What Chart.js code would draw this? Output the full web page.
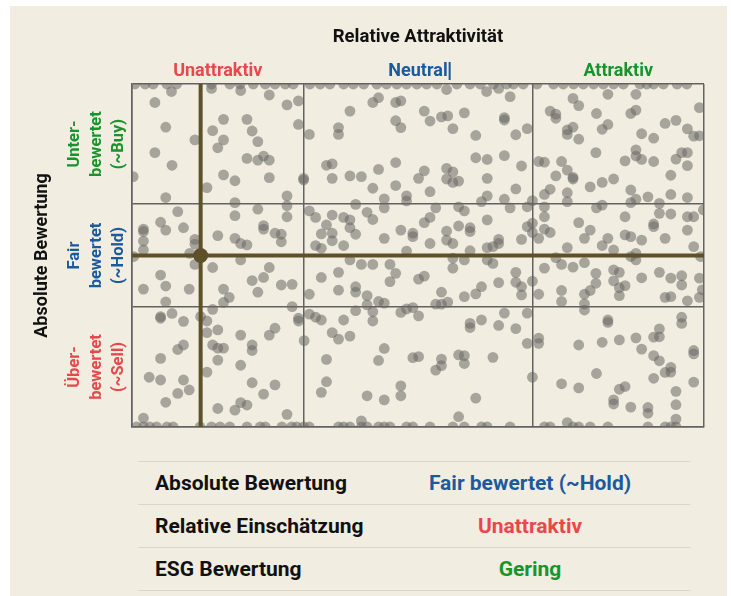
<!DOCTYPE html>
<html>
<head>
<meta charset="utf-8">
<script src="https://cdn.jsdelivr.net/npm/chart.js@4.4.1/dist/chart.umd.min.js"></script>
<style>
  html, body { margin: 0; padding: 0; background: #fff; }
  body { width: 731px; height: 596px; position: relative; overflow: hidden; font-family: Roboto, "Noto Sans", sans-serif; }
  #card { position: absolute; left: 10px; top: 6px; width: 717px; height: 600px; background: #f1ede1; }
  #chart { position: absolute; left: 0; top: 0; }
  #info { position: absolute; left: 138px; top: 461px; width: 552px; border-collapse: collapse; }
  #info td { height: 42px; line-height: 24px; border-top: 1px solid #d9d6cc; border-bottom: 1px solid #d9d6cc; font-size: 21px; font-weight: 700; padding: 0; }
  #info td.k { width: 215px; padding-left: 17px; color: #111; }
  #info td.v { text-align: center; }
</style>
</head>
<body>
<div id="card"></div>
<canvas id="chart" width="731" height="450"></canvas>
<table id="info"></table>
<script>
// axis split points (0..100 scale) and labels
let colBounds = [0, 30, 70, 100];
let rowBounds = [0, 35, 65, 100];
let colLabels = ['Unattraktiv', 'Neutral', 'Attraktiv'];
let colColors = ['#e8484b', '#1b5a9c', '#17952d'];
let rowLabels = [['Unter-', 'bewertet', '(~Buy)'], ['Fair', 'bewertet', '(~Hold)'], ['Über-', 'bewertet', '(~Sell)']];
let rowColors = ['#17952d', '#1b5a9c', '#e8484b'];

// the company we look at
let focusX = 12, focusY = 50;

// peers sitting on the top / bottom border (values out of range)
let topEdgeX = [0.5,2.3,3.7,6.1,7.8,13.9,17.1,18.9,21.2,23.3,25.0,26.8,28.2,31.1,32.9,34.6,37.0,38.7,40.5,42.8,44.5,46.3,48.0,49.8,51.5,53.3,56.8,59.1,60.9,63.2,65.5,66.7,68.4,70.8,73.7,75.4,77.2,78.9,80.7,82.4,84.2,85.9,88.8,90.0,91.2,92.9,95.3,97.0];
let bottomEdgeX = [0.8,2.0,3.1,4.3,6.1,7.2,11.9,13.9,15.4,17.1,20.1,22.4,23.3,26.2,27.9,28.8,30.0,31.0,36.1,37.0,38.1,40.1,41.1,43.1,44.1,45.1,48.0,49.1,52.1,56.1,58.1,61.1,62.1,66.1,72.1,73.1,77.1,78.1,80.1,83.2,90.2,93.2,94.2,95.1];

// peers [relative, absolute]
let leftTop = [[6.9,97.8],[13.9,98.7],[19.0,98.1],[24.0,96.8],[4.0,94.6],[27.1,93.9],[5.9,87.4],[16.0,89.7],[20.1,89.7],[14.1,86.4],[21.0,86.3],[11.0,83.7],[16.0,83.7],[22.0,83.2],[15.0,81.4],[4.0,80.0],[7.0,76.3],[20.1,78.3],[22.0,77.8],[23.0,79.0],[24.0,77.8],[0.2,73.0],[16.0,73.5],[18.0,71.8],[24.0,72.7],[13.1,69.8],[5.9,66.9],[27.1,67.4],[18.0,65.4],[27.1,64.5],[8.0,62.8],[22.0,63.5],[18.0,61.6],[27.1,61.3],[2.0,57.7],[2.0,57.0],[5.0,59.7],[5.9,57.4],[9.0,58.1],[23.0,58.7],[23.0,57.7],[25.0,56.5],[26.1,56.2],[2.0,54.2],[15.0,55.8],[11.0,54.7],[18.0,55.0],[19.0,53.5],[20.1,53.1],[26.1,54.0],[2.0,51.6],[10.1,50.6],[11.0,53.3],[0.3,49.7],[11.0,47.4],[14.1,46.5],[19.0,48.7],[24.0,46.5]];
let leftBottom = [[5.0,44.3],[2.0,40.2],[5.9,41.1],[10.0,40.2],[5.9,36.5],[16.0,40.2],[17.0,37.8],[16.0,36.3],[21.0,42.7],[23.0,43.6],[26.1,41.4],[22.0,39.3],[14.1,34.3],[12.0,32.2],[13.1,30.9],[5.0,32.2],[5.0,31.7],[7.0,33.1],[9.0,30.8],[15.0,28.3],[13.1,27.5],[19.0,26.8],[24.0,26.8],[25.0,28.8],[21.0,23.9],[21.0,22.3],[14.1,23.9],[15.0,23.0],[16.0,23.0],[9.0,23.9],[8.0,22.6],[5.0,20.0],[15.0,19.5],[19.0,18.0],[13.1,16.0],[3.0,14.5],[5.0,13.7],[9.0,13.7],[10.0,10.8],[8.0,9.8],[5.9,7.2],[21.0,12.9],[25.0,12.3],[23.0,9.6],[15.0,5.4],[18.0,4.9],[19.0,7.1],[20.1,6.4],[27.1,3.7],[2.0,2.6]];
let rightTop = [[55.0,98.4],[62.0,97.8],[64.1,98.7],[66.1,96.3],[29.1,95.1],[31.0,85.3],[36.1,87.3],[36.1,85.3],[38.1,92.1],[42.1,94.6],[43.1,96.0],[46.1,94.6],[47.0,95.1],[46.1,89.3],[47.0,87.3],[51.1,92.1],[52.1,89.2],[54.1,90.4],[55.2,90.7],[56.1,87.0],[58.1,91.6],[60.1,85.0],[65.1,90.2],[65.1,89.5],[67.1,85.2],[69.1,87.0],[29.1,88.2],[73.1,92.1],[74.1,91.2],[74.1,90.0],[77.1,95.8],[78.1,93.7],[76.1,86.6],[76.1,85.3],[77.1,87.4],[78.1,83.9],[81.2,91.4],[82.2,86.8],[83.2,88.2],[83.2,97.0],[88.1,97.0],[87.2,91.4],[88.1,92.4],[89.1,85.5],[91.2,84.2],[93.2,88.5],[95.1,89.4],[97.1,86.9],[98.2,84.8],[99.2,84.9],[99.2,93.1],
  [81.1,80.0],[86.2,77.6],[88.1,80.8],[88.1,79.0],[89.1,78.0],[91.2,77.4],[95.1,78.1],[96.1,80.0],[97.1,80.0],[97.1,76.2],[94.2,73.4],[84.2,72.3],[82.2,71.3],[80.1,70.0],[87.2,69.1],[88.1,66.4],[87.2,65.4],[90.2,67.1],[92.2,65.2],[94.2,67.8],[97.1,66.9],[71.1,77.4],[72.1,77.2],[75.1,77.4],[76.1,74.9],[77.1,72.8],[77.1,72.3],[74.1,73.2],[73.1,69.3],[72.1,67.8],[76.1,68.3],[76.1,65.7],[34.0,76.3],[35.0,76.7],[35.0,72.5],[38.1,73.2],[40.1,73.0],[43.1,75.1],[46.1,77.1],[42.1,69.6],[46.1,70.4],[44.1,66.5],[48.0,67.4],[48.0,65.9],[50.1,72.5],[51.1,74.7],[52.1,68.6],[55.0,75.4],[56.1,74.4],[55.0,72.3],[56.1,71.3],[57.1,71.7],[60.1,78.5],[62.1,78.0],[65.1,79.1],[68.1,76.1],[62.1,72.5],[67.1,69.4],[62.1,67.4],[61.1,65.7],[65.1,66.4],[70.0,66.0],[30.0,72.5],[30.0,72.0],
  [31.0,63.0],[32.1,61.1],[34.0,58.9],[33.1,56.3],[35.0,61.8],[35.0,56.5],[35.0,54.3],[37.0,61.1],[38.1,60.4],[38.1,58.1],[39.1,56.2],[37.0,52.9],[32.1,52.9],[33.1,52.1],[39.1,64.9],[41.1,62.6],[42.1,60.5],[44.1,63.9],[44.1,55.0],[47.0,57.4],[49.1,56.5],[49.1,55.5],[48.0,51.3],[51.1,59.6],[52.1,61.1],[53.1,63.9],[52.1,53.5],[55.0,57.1],[55.0,54.5],[56.1,53.5],[57.1,64.2],[57.1,58.6],[58.1,63.0],[59.1,58.1],[59.1,57.0],[59.1,51.4],[62.1,60.4],[62.1,52.3],[63.1,52.6],[64.1,53.5],[64.1,54.7],[62.1,48.7],[63.1,47.7],[66.1,63.9],[68.1,54.7],[69.1,64.2],[69.1,58.4],[70.0,59.4],[70.0,56.7],[71.1,55.0],[72.1,64.2],[72.1,61.3],[72.1,57.7],[73.1,56.7],[76.1,52.3],[78.1,59.6],[79.1,55.0],[80.1,57.4],[81.2,63.9],[82.2,64.7],[82.2,52.9],[83.2,55.0],[84.2,51.6],[86.2,61.3],[86.2,56.0],[87.2,55.5],[88.1,50.6],[87.2,49.7],[88.1,48.7],[89.1,54.5],[91.2,59.2],[91.2,58.4],[92.2,62.3],[93.2,55.0],[94.2,62.1],[97.1,61.3],[98.2,61.3],[97.1,57.4],[98.2,52.6],[99.9,63.3],[99.4,49.7],
  [38.1,48.7],[40.1,47.4],[42.1,47.4],[45.1,47.4],[56.1,49.2],[58.1,48.7],[56.1,46.3],[72.1,46.3],[74.1,49.4],[75.1,47.4],[77.1,46.6],[79.1,47.9]];
let rightBottom = [[28.0,41.6],[28.0,35.1],[29.1,31.7],[29.1,30.9],[30.1,25.2],[31.0,38.7],[31.0,32.9],[32.1,32.0],[33.1,31.2],[33.1,43.6],[36.1,45.1],[36.1,39.9],[39.1,40.9],[39.1,39.3],[41.1,38.3],[41.1,35.6],[42.1,33.6],[42.1,30.9],[43.1,36.6],[44.1,36.1],[45.1,42.4],[46.1,44.8],[39.1,33.9],[37.0,31.2],[35.0,27.5],[36.1,25.6],[38.1,26.5],[34.0,19.7],[34.0,13.2],[33.1,10.1],[44.1,22.9],[43.1,19.4],[41.1,9.1],[44.1,7.9],[47.0,12.0],[47.0,9.1],[47.0,33.4],[48.0,34.4],[49.1,34.8],[50.1,43.1],[51.1,44.0],[50.1,32.4],[53.1,35.8],[54.1,35.8],[55.2,36.4],[54.1,39.3],[58.1,38.0],[60.1,38.8],[61.1,40.9],[64.1,42.1],[67.1,45.1],[67.1,42.2],[68.1,40.9],[68.1,38.5],[70.0,42.5],[65.1,33.2],[69.1,33.2],[61.1,31.2],[59.1,30.2],[59.1,29.0],[64.1,29.6],[67.1,28.7],[69.1,24.4],[54.1,19.8],[54.1,17.9],[53.1,16.6],[49.1,20.2],[50.1,20.5],[57.1,21.0],[58.1,20.8],[58.1,18.5],[63.1,20.3],[60.1,8.4],[57.1,3.0],[40.1,1.8],[70.0,14.5],
  [71.1,25.9],[71.1,24.4],[71.1,38.7],[75.1,39.8],[75.1,36.6],[79.1,38.7],[80.1,39.8],[81.1,41.9],[81.1,44.8],[79.1,35.9],[79.1,34.1],[84.2,45.8],[85.2,45.1],[86.2,41.2],[85.2,40.6],[85.2,38.3],[84.2,42.6],[89.1,43.5],[92.2,45.1],[94.2,43.4],[96.1,44.1],[96.1,41.4],[93.2,37.8],[94.2,38.0],[97.1,36.8],[99.2,43.4],[99.2,37.8],[99.7,40.0],[83.2,31.2],[83.2,30.5],[96.1,32.0],[96.1,30.2],[92.2,28.6],[91.2,26.2],[92.2,26.3],[88.1,26.0],[85.2,25.4],[82.2,24.7],[78.1,23.9],[89.1,22.7],[91.2,20.8],[92.2,19.3],[98.2,22.3],[98.2,21.3],[81.2,15.6],[75.1,12.6],[78.1,11.4],[85.2,11.0],[86.2,11.8],[84.2,7.9],[84.2,6.7],[87.2,5.8],[90.2,5.7],[90.2,4.0],[91.2,14.2],[93.2,15.9],[94.2,17.4],[94.2,16.0],[95.1,10.4],[95.1,6.5],[95.1,2.3],[98.2,13.1],[76.1,1.3]];

// summary table
let tableKeys = ['Absolute Bewertung', 'Relative Einschätzung', 'ESG Bewertung'];
let tableValues = ['Fair bewertet (~Hold)', 'Unattraktiv', 'Gering'];
let tableColors = ['#1b5a9c', '#e8484b', '#17952d'];

let peers = []
  .concat(topEdgeX.map(x => ({ x: x, y: 100 })))
  .concat(bottomEdgeX.map(x => ({ x: x, y: 0 })))
  .concat(leftTop, leftBottom, rightTop, rightBottom).map(p => Array.isArray(p) ? { x: p[0], y: p[1] } : p);

let olive = '#5e5129';
let gridColor = '#626262';

// titles and quadrant labels
const labelPlugin = {
  id: 'labels',
  afterDraw(chart) {
    const ctx = chart.ctx;
    const xs = chart.scales.x, ys = chart.scales.y, area = chart.chartArea;
    ctx.save();
    ctx.textAlign = 'center';
    ctx.textBaseline = 'middle';
    ctx.fillStyle = '#111';
    ctx.font = 'bold 18.5px Roboto';
    ctx.fillText('Relative Attraktivität', (area.left + area.right) / 2, 37);

    ctx.font = 'bold 18px Roboto';
    for (let i = 0; i < colLabels.length; i++) {
      const cx = xs.getPixelForValue((colBounds[i] + colBounds[i + 1]) / 2);
      ctx.fillStyle = colColors[i];
      ctx.fillText(colLabels[i], cx, 71);
      if (i === 1) {
        // stray caret after "Neutral" in the original
        const w = ctx.measureText(colLabels[i]).width;
        ctx.fillRect(cx + w / 2 + 1, 62, 2, 18);
      }
    }

    ctx.save();
    ctx.translate(42, (area.top + area.bottom) / 2);
    ctx.rotate(-Math.PI / 2);
    ctx.fillStyle = '#111';
    ctx.font = 'bold 18px Roboto';
    ctx.fillText('Absolute Bewertung', 0, 0);
    ctx.restore();

    ctx.font = 'bold 16.5px Roboto';
    for (let i = 0; i < rowLabels.length; i++) {
      const top = rowBounds[rowBounds.length - 1 - i], bot = rowBounds[rowBounds.length - 2 - i];
      const cy = ys.getPixelForValue((top + bot) / 2);
      ctx.fillStyle = rowColors[i];
      rowLabels[i].forEach((line, j) => {
        ctx.save();
        ctx.translate(75 + j * 22, cy);
        ctx.rotate(-Math.PI / 2);
        ctx.fillText(line, 0, 0);
        ctx.restore();
      });
    }
    ctx.restore();
  }
};

new Chart(document.getElementById('chart'), {
  type: 'scatter',
  data: {
    datasets: [
      {
        label: 'focus',
        data: [{ x: focusX, y: focusY }],
        pointRadius: 7.5,
        backgroundColor: olive,
        borderWidth: 0,
        order: 0
      },
      {
        label: 'vline',
        data: [{ x: focusX, y: 0 }, { x: focusX, y: 100 }],
        showLine: true,
        pointRadius: 0,
        borderColor: olive,
        borderWidth: 4,
        order: 1
      },
      {
        label: 'hline',
        data: [{ x: 0, y: focusY }, { x: 100, y: focusY }],
        showLine: true,
        pointRadius: 0,
        borderColor: olive,
        borderWidth: 4,
        order: 1
      },
      {
        label: 'peers',
        data: peers,
        pointRadius: 5.4,
        backgroundColor: 'rgba(105,104,100,0.55)',
        borderWidth: 0,
        clip: 0,
        order: 3
      }
    ]
  },
  options: {
    responsive: false,
    animation: false,
    layout: { padding: { left: 132, right: 27, top: 84, bottom: 23 } },
    plugins: { legend: { display: false }, tooltip: { enabled: false } },
    scales: {
      x: {
        type: 'linear', min: 0, max: 100,
        afterBuildTicks: s => { s.ticks = colBounds.map(v => ({ value: v })); },
        ticks: { display: false },
        grid: { color: gridColor, lineWidth: 1.5, drawTicks: false },
        border: { color: gridColor, width: 1.5 }
      },
      y: {
        type: 'linear', min: 0, max: 100,
        afterBuildTicks: s => { s.ticks = rowBounds.map(v => ({ value: v })); },
        ticks: { display: false },
        grid: { color: gridColor, lineWidth: 1.5, drawTicks: false },
        border: { color: gridColor, width: 1.5 }
      }
    }
  },
  plugins: [labelPlugin]
});

let tbl = document.getElementById('info');
tableKeys.forEach((k, i) => {
  let tr = document.createElement('tr');
  tr.innerHTML = '<td class="k">' + k + '</td><td class="v" style="color:' + tableColors[i] + '">' + tableValues[i] + '</td>';
  tbl.appendChild(tr);
});
</script>
</body>
</html>
